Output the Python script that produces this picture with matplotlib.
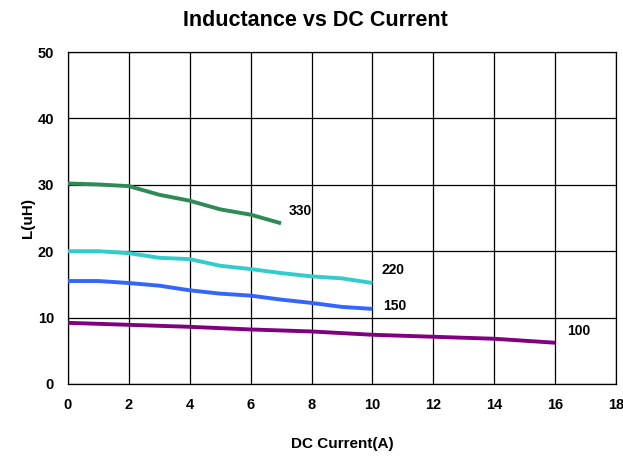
import matplotlib
matplotlib.use("Agg")
import matplotlib.pyplot as plt

plt.rcParams["font.family"] = ["Liberation Sans", "DejaVu Sans"]

# Inductance curves, L (uH) against DC current (A)
x_330 = [0, 1, 2, 3, 4, 5, 6, 7]
l_330 = [30.2, 30.05, 29.8, 28.5, 27.6, 26.3, 25.5, 24.2]

x_220 = [0, 1, 2, 3, 4, 5, 6, 7, 8, 9, 10]
l_220 = [20.0, 20.0, 19.7, 19.0, 18.8, 17.8, 17.3, 16.7, 16.2, 15.9, 15.2]

x_150 = [0, 1, 2, 3, 4, 5, 6, 7, 8, 9, 10]
l_150 = [15.5, 15.5, 15.2, 14.8, 14.1, 13.6, 13.3, 12.7, 12.2, 11.6, 11.3]

x_100 = [0, 2, 4, 6, 8, 10, 12, 14, 16]
l_100 = [9.2, 8.9, 8.6, 8.2, 7.9, 7.4, 7.1, 6.8, 6.2]

series = [
    ("330", x_330, l_330, "#2e8b57", (7.25, 26.0)),
    ("220", x_220, l_220, "#33cccc", (10.3, 17.2)),
    ("150", x_150, l_150, "#3366ff", (10.35, 11.7)),
    ("100", x_100, l_100, "#800080", (16.4, 8.0)),
]

fig = plt.figure(figsize=(6.23, 4.57), dpi=100)
ax = fig.add_axes([0.109, 0.160, 0.880, 0.726])

for name, xs, ls, color, (tx, ty) in series:
    ax.plot(xs, ls, color=color, linewidth=2.8, solid_capstyle="butt", zorder=3)
    ax.text(tx, ty, name, fontsize=10, fontweight="bold", va="center", ha="left")

ax.set_xlim(0, 18)
ax.set_ylim(0, 50)
ax.set_xticks(range(0, 19, 2))
ax.set_yticks(range(0, 51, 10))
ax.grid(True, color="black", linewidth=0.9)
ax.tick_params(length=0, labelsize=10.5, pad=10)
for lbl in ax.get_xticklabels() + ax.get_yticklabels():
    lbl.set_fontweight("bold")
for spine in ax.spines.values():
    spine.set_linewidth(0.9)

fig.text(0.506, 0.956, "Inductance vs DC Current", fontsize=15.5, fontweight="bold",
         ha="center", va="center")
ax.set_xlabel("DC Current(A)", fontsize=11, fontweight="bold", labelpad=18)
ax.set_ylabel("L(uH)", fontsize=11, fontweight="bold", labelpad=2)

fig.savefig("out.png", dpi=100)
